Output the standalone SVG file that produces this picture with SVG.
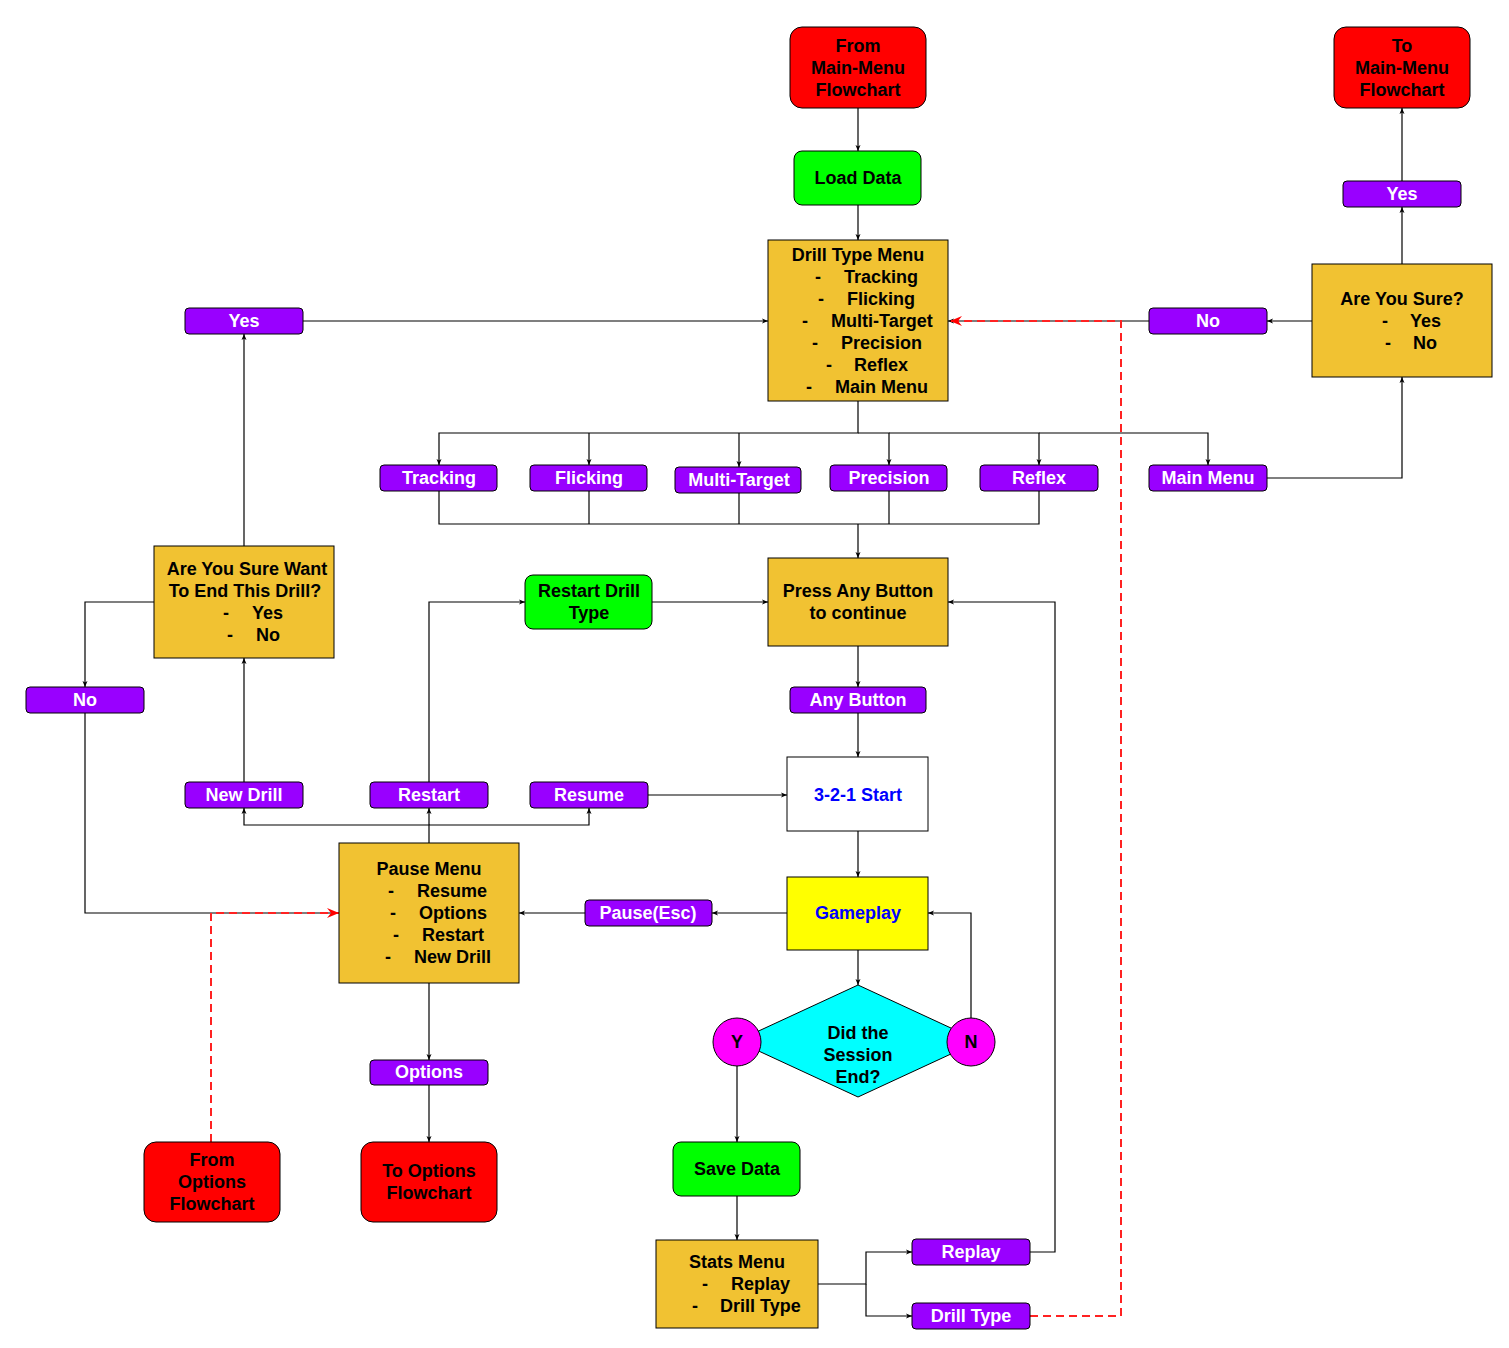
<svg xmlns="http://www.w3.org/2000/svg" width="1509" height="1348" viewBox="0 0 1509 1348">
<defs>
<style>
text{font-family:"Liberation Sans",Arial,sans-serif;font-weight:bold;font-size:18px;fill:#000}
.c{text-anchor:middle}
.w{fill:#fff}
.b{fill:#0000ff}
.term{fill:#ff0000;stroke:#000;stroke-width:1}
.proc{fill:#00ff00;stroke:#000;stroke-width:1}
.menu{fill:#f1c232;stroke:#000;stroke-width:1}
.pill{fill:#9900ff;stroke:#000;stroke-width:1}
.ln{fill:none;stroke:#000;stroke-width:1.2}
.rd{fill:none;stroke:#ff2222;stroke-width:2;stroke-dasharray:8 5}
</style>
<marker id="a" viewBox="0 0 6 6" refX="6" refY="3" markerWidth="6" markerHeight="6" markerUnits="userSpaceOnUse" orient="auto"><path d="M0,0.5 L6,3 L0,5.5 L1.5,3z" fill="#000"/></marker>
<marker id="r" viewBox="0 0 12 10" refX="12" refY="5" markerWidth="12" markerHeight="10" markerUnits="userSpaceOnUse" orient="auto"><path d="M0,0 L12,5 L0,10 L4,5z" fill="#ff0000"/></marker>
</defs>
<rect width="1509" height="1348" fill="#fff"/>
<g id="connectors">
<path class="ln" d="M858,108 V151" marker-end="url(#a)"/>
<path class="ln" d="M858,205 V240" marker-end="url(#a)"/>
<path class="ln" d="M303,321 H768" marker-end="url(#a)"/>
<path class="ln" d="M1312,321 H1267" marker-end="url(#a)"/>
<path class="ln" d="M1149,321 H948" marker-end="url(#a)"/>
<path class="ln" d="M1402,264 V207" marker-end="url(#a)"/>
<path class="ln" d="M1402,181 V108" marker-end="url(#a)"/>
<path class="ln" d="M1267,478 H1402 V377" marker-end="url(#a)"/>
<path class="ln" d="M858,401 V433 H439 V465" marker-end="url(#a)"/>
<path class="ln" d="M589,433 V465" marker-end="url(#a)"/>
<path class="ln" d="M739,433 V467" marker-end="url(#a)"/>
<path class="ln" d="M858,433 H889 V465" marker-end="url(#a)"/>
<path class="ln" d="M889,433 H1039 V465" marker-end="url(#a)"/>
<path class="ln" d="M1039,433 H1208 V465" marker-end="url(#a)"/>
<path class="ln" d="M439,491 V524 H1039 V491"/>
<path class="ln" d="M589,491 V524"/>
<path class="ln" d="M739,493 V524"/>
<path class="ln" d="M889,491 V524"/>
<path class="ln" d="M858,524 V558" marker-end="url(#a)"/>
<path class="ln" d="M858,646 V687" marker-end="url(#a)"/>
<path class="ln" d="M858,713 V757" marker-end="url(#a)"/>
<path class="ln" d="M858,831 V877" marker-end="url(#a)"/>
<path class="ln" d="M787,913 H712" marker-end="url(#a)"/>
<path class="ln" d="M585,913 H519" marker-end="url(#a)"/>
<path class="ln" d="M858,950 V985" marker-end="url(#a)"/>
<path class="ln" d="M971,1018 V913 H928" marker-end="url(#a)"/>
<path class="ln" d="M737,1066 V1142" marker-end="url(#a)"/>
<path class="ln" d="M737,1196 V1240" marker-end="url(#a)"/>
<path class="ln" d="M818,1284 H866 V1252 H912" marker-end="url(#a)"/>
<path class="ln" d="M866,1284 V1316 H912" marker-end="url(#a)"/>
<path class="ln" d="M1030,1252 H1055 V602 H948" marker-end="url(#a)"/>
<path class="ln" d="M429,843 V825 H244 V808" marker-end="url(#a)"/>
<path class="ln" d="M429,825 H589 V808" marker-end="url(#a)"/>
<path class="ln" d="M429,825 V808" marker-end="url(#a)"/>
<path class="ln" d="M648,795 H787" marker-end="url(#a)"/>
<path class="ln" d="M429,782 V602 H525" marker-end="url(#a)"/>
<path class="ln" d="M652,602 H768" marker-end="url(#a)"/>
<path class="ln" d="M244,782 V658" marker-end="url(#a)"/>
<path class="ln" d="M244,546 V334" marker-end="url(#a)"/>
<path class="ln" d="M154,602 H85 V687" marker-end="url(#a)"/>
<path class="ln" d="M85,713 V913 H339"/>
<path class="ln" d="M429,983 V1060" marker-end="url(#a)"/>
<path class="ln" d="M429,1085 V1142" marker-end="url(#a)"/>
<path class="rd" d="M1030,1316 H1121 V321 H950" marker-end="url(#r)"/>
<path class="rd" d="M211,1142 V913 H339" marker-end="url(#r)"/>
</g>
<g id="from-main">
<rect class="term" x="790" y="27" width="136" height="81" rx="12"/>
<text class="c" x="858" y="52">From</text><text class="c" x="858" y="74">Main-Menu</text><text class="c" x="858" y="96">Flowchart</text>
</g>
<g id="load-data">
<rect class="proc" x="794" y="151" width="127" height="54" rx="8"/>
<text class="c" x="858" y="184">Load Data</text>
</g>
<g id="drill-menu">
<rect class="menu" x="768" y="240" width="180" height="161"/>
<text class="c" x="858" y="261">Drill Type Menu</text>
<text y="283"><tspan x="815">-</tspan><tspan x="844">Tracking</tspan></text>
<text y="305"><tspan x="818">-</tspan><tspan x="847">Flicking</tspan></text>
<text y="327"><tspan x="802">-</tspan><tspan x="831">Multi-Target</tspan></text>
<text y="349"><tspan x="812">-</tspan><tspan x="841">Precision</tspan></text>
<text y="371"><tspan x="826">-</tspan><tspan x="854">Reflex</tspan></text>
<text y="393"><tspan x="806">-</tspan><tspan x="835">Main Menu</tspan></text>
</g>
<g id="to-main">
<rect class="term" x="1334" y="27" width="136" height="81" rx="12"/>
<text class="c" x="1402" y="52">To</text><text class="c" x="1402" y="74">Main-Menu</text><text class="c" x="1402" y="96">Flowchart</text>
</g>
<g id="yes-right"><rect class="pill" x="1343" y="181" width="118" height="26" rx="4"/><text class="c w" x="1402" y="200">Yes</text></g>
<g id="are-you-sure">
<rect class="menu" x="1312" y="264" width="180" height="113"/>
<text class="c" x="1402" y="305">Are You Sure?</text>
<text y="327"><tspan x="1382">-</tspan><tspan x="1410">Yes</tspan></text>
<text y="349"><tspan x="1385">-</tspan><tspan x="1413">No</tspan></text>
</g>
<g id="no-right"><rect class="pill" x="1149" y="308" width="118" height="26" rx="4"/><text class="c w" x="1208" y="327">No</text></g>
<g id="yes-left"><rect class="pill" x="185" y="308" width="118" height="26" rx="4"/><text class="c w" x="244" y="327">Yes</text></g>
<g id="p-tracking"><rect class="pill" x="380" y="465" width="117" height="26" rx="4"/><text class="c w" x="439" y="484">Tracking</text></g>
<g id="p-flicking"><rect class="pill" x="530" y="465" width="117" height="26" rx="4"/><text class="c w" x="589" y="484">Flicking</text></g>
<g id="p-multi"><rect class="pill" x="675" y="467" width="126" height="26" rx="4"/><text class="c w" x="739" y="486">Multi-Target</text></g>
<g id="p-precision"><rect class="pill" x="830" y="465" width="117" height="26" rx="4"/><text class="c w" x="889" y="484">Precision</text></g>
<g id="p-reflex"><rect class="pill" x="980" y="465" width="118" height="26" rx="4"/><text class="c w" x="1039" y="484">Reflex</text></g>
<g id="p-mainmenu"><rect class="pill" x="1149" y="465" width="118" height="26" rx="4"/><text class="c w" x="1208" y="484">Main Menu</text></g>
<g id="press-any">
<rect class="menu" x="768" y="558" width="180" height="88"/>
<text class="c" x="858" y="597">Press Any Button</text><text class="c" x="858" y="619">to continue</text>
</g>
<g id="restart-drill">
<rect class="proc" x="525" y="575" width="127" height="54" rx="8"/>
<text class="c" x="589" y="597">Restart Drill</text><text class="c" x="589" y="619">Type</text>
</g>
<g id="end-drill">
<rect class="menu" x="154" y="546" width="180" height="112"/>
<text class="c" x="247" y="575">Are You Sure Want</text>
<text class="c" x="245" y="597">To End This Drill?</text>
<text y="619"><tspan x="223">-</tspan><tspan x="252">Yes</tspan></text>
<text y="641"><tspan x="227">-</tspan><tspan x="256">No</tspan></text>
</g>
<g id="no-left"><rect class="pill" x="26" y="687" width="118" height="26" rx="4"/><text class="c w" x="85" y="706">No</text></g>
<g id="any-button"><rect class="pill" x="790" y="687" width="136" height="26" rx="4"/><text class="c w" x="858" y="706">Any Button</text></g>
<g id="start">
<rect x="787" y="757" width="141" height="74" fill="#fff" stroke="#000" stroke-width="1"/>
<text class="c b" x="858" y="801">3-2-1 Start</text>
</g>
<g id="new-drill"><rect class="pill" x="185" y="782" width="118" height="26" rx="4"/><text class="c w" x="244" y="801">New Drill</text></g>
<g id="restart"><rect class="pill" x="370" y="782" width="118" height="26" rx="4"/><text class="c w" x="429" y="801">Restart</text></g>
<g id="resume"><rect class="pill" x="530" y="782" width="118" height="26" rx="4"/><text class="c w" x="589" y="801">Resume</text></g>
<g id="pause-menu">
<rect class="menu" x="339" y="843" width="180" height="140"/>
<text class="c" x="429" y="875">Pause Menu</text>
<text y="897"><tspan x="388">-</tspan><tspan x="417">Resume</tspan></text>
<text y="919"><tspan x="390">-</tspan><tspan x="419">Options</tspan></text>
<text y="941"><tspan x="393">-</tspan><tspan x="422">Restart</tspan></text>
<text y="963"><tspan x="385">-</tspan><tspan x="414">New Drill</tspan></text>
</g>
<g id="pause-esc"><rect class="pill" x="585" y="900" width="127" height="26" rx="4"/><text class="c w" x="648" y="919">Pause(Esc)</text></g>
<g id="gameplay">
<rect x="787" y="877" width="141" height="73" fill="#ffff00" stroke="#000" stroke-width="1"/>
<text class="c b" x="858" y="919">Gameplay</text>
</g>
<g id="session-end">
<path d="M858,985 L979,1041 L858,1097 L737,1041z" fill="#00ffff" stroke="#000" stroke-width="1"/>
<text class="c" x="858" y="1039">Did the</text><text class="c" x="858" y="1061">Session</text><text class="c" x="858" y="1083">End?</text>
</g>
<g id="y-circle"><circle cx="737" cy="1042" r="24" fill="#ff00ff" stroke="#000" stroke-width="1"/><text class="c" x="737" y="1048">Y</text></g>
<g id="n-circle"><circle cx="971" cy="1042" r="24" fill="#ff00ff" stroke="#000" stroke-width="1"/><text class="c" x="971" y="1048">N</text></g>
<g id="options"><rect class="pill" x="370" y="1060" width="118" height="25" rx="4"/><text class="c w" x="429" y="1078">Options</text></g>
<g id="from-options">
<rect class="term" x="144" y="1142" width="136" height="80" rx="12"/>
<text class="c" x="212" y="1166">From</text><text class="c" x="212" y="1188">Options</text><text class="c" x="212" y="1210">Flowchart</text>
</g>
<g id="to-options">
<rect class="term" x="361" y="1142" width="136" height="80" rx="12"/>
<text class="c" x="429" y="1177">To Options</text><text class="c" x="429" y="1199">Flowchart</text>
</g>
<g id="save-data">
<rect class="proc" x="673" y="1142" width="127" height="54" rx="8"/>
<text class="c" x="737" y="1175">Save Data</text>
</g>
<g id="stats-menu">
<rect class="menu" x="656" y="1240" width="162" height="88"/>
<text class="c" x="737" y="1268">Stats Menu</text>
<text y="1290"><tspan x="702">-</tspan><tspan x="731">Replay</tspan></text>
<text y="1312"><tspan x="692">-</tspan><tspan x="720">Drill Type</tspan></text>
</g>
<g id="replay"><rect class="pill" x="912" y="1239" width="118" height="26" rx="4"/><text class="c w" x="971" y="1258">Replay</text></g>
<g id="drill-type"><rect class="pill" x="912" y="1303" width="118" height="26" rx="4"/><text class="c w" x="971" y="1322">Drill Type</text></g>
</svg>
